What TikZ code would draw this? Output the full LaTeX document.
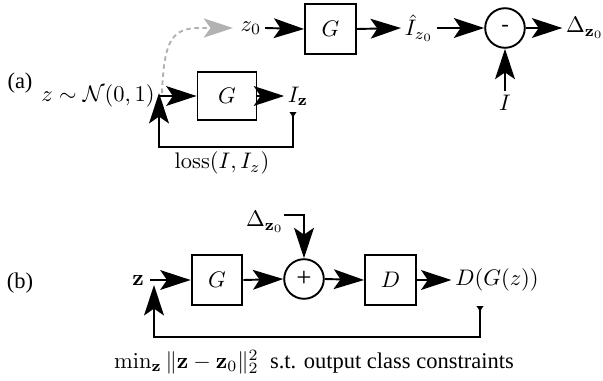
\documentclass[tikz,border=0pt]{standalone}
\usepackage[no-math]{fontspec}
\setmainfont{Liberation Serif}
\usetikzlibrary{arrows.meta,calc}
\begin{document}
\begin{tikzpicture}[x=0.4444pt,y=-0.4444pt,
  blk/.style={draw,line width=0.85pt,minimum width=22.6pt,minimum height=22.2pt,inner sep=0pt},
  sumc/.style={draw,circle,line width=0.85pt,minimum size=17.6pt,inner sep=0pt},
  lbl/.style={inner sep=1.5pt},
  bigtip/.tip={Stealth[length=13.5pt,width=8.8pt,inset=3pt]},
  arr/.style={line width=0.85pt,-bigtip},
  fbk/.style={line width=0.85pt,{Triangle[reversed,length=2.4pt,width=3pt]}-bigtip},
  dsh/.style={gray!60,dash pattern=on 2pt off 1.6pt,line width=0.85pt,-{Stealth[length=13pt,width=8.5pt,inset=3pt,gray!60]}}
]
\useasboundingbox (0,0) rectangle (603,380);
% ---------------- (a) ----------------
\node[lbl] (la) at (20,83) {(a)};
\node[lbl] (zn) at (98,96) {$z\sim\mathcal{N}(0,1)$};
\node[blk,minimum width=26.2pt,minimum height=21.6pt] (g1) at (227,96) {$G$};
\node[lbl] (iz) at (298,96) {$I_{\mathbf z}$};
\node[lbl] (z0) at (251,28) {$z_0$};
\node[blk] (g2) at (330.5,29) {$G$};
\node[lbl] (ih) at (419,28) {$\hat I_{z_0}$};
\node[sumc] (m) at (505,28) {-};
\node[lbl] (dz) at (585,28) {$\Delta_{\mathbf z_0}$};
\node[lbl] (ii) at (505,103) {$I$};
\node[lbl] (loss) at (222,163) {$\mathrm{loss}(I,I_z)$};
\coordinate (ds) at (162,93);
\coordinate (zt) at (233,28);
\coordinate (fa) at (293,112);
\coordinate (fe) at (159,93);
\draw[arr] (zn.east) -- (g1.west);
\draw[arr] (g1.east) -- (iz.west);
\draw[arr] (z0.east) -- (g2.west);
\draw[arr] (g2.east) -- (ih.west);
\draw[arr] (ih.east) -- (m.west);
\draw[arr] (m.east) -- (dz.west);
\draw[arr] (ii.north) -- (m.south);
\draw[fbk] (fa) -- (293,147) -| (fe);
\draw[dsh] (ds) .. controls (164,40) and (172,28) .. (200,28) -- (zt);
% ---------------- (b) ----------------
\node[lbl] (lb) at (20,283) {(b)};
\node[lbl] (zb) at (138,280) {$\mathbf z$};
\node[blk] (g3) at (217,280) {$G$};
\node[sumc] (p) at (304,279) {\large +};
\node[lbl] (dzb) at (265,222) {$\Delta_{\mathbf z_0}$};
\node[blk] (d) at (390.5,280) {$D$};
\node[lbl] (dg) at (497,280) {$D(G(z))$};
\node[lbl] (cons) at (314,362) {$\min_{\mathbf z}\|\mathbf z-\mathbf z_0\|_2^2$\ \ s.t. output class constraints};
\coordinate (zs) at (150,280);
\coordinate (dzs) at (284,215);
\coordinate (fb) at (480,306);
\coordinate (fbe) at (154,285);
\draw[arr] (zs) -- (g3.west);
\draw[arr] (g3.east) -- (p.west);
\draw[arr] (dzs) -| (p.north);
\draw[arr] (p.east) -- (d.west);
\draw[arr] (d.east) -- (dg.west);
\draw[fbk] (fb) -- (480,337) -| (fbe);
\end{tikzpicture}
\end{document}
